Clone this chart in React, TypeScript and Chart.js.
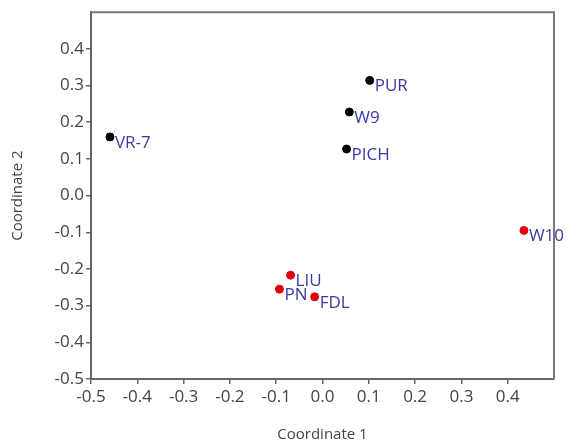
import { useEffect, useRef } from "react";
import { Chart, registerables } from "chart.js";
Chart.register(...registerables);

const blackLabels = ["VR-7", "PUR", "W9", "PICH"];
const blackX = [-0.459, 0.102, 0.058, 0.052];
const blackY = [0.16, 0.314, 0.228, 0.127];

const redLabels = ["W10", "LIU", "PN", "FDL"];
const redX = [0.435, -0.069, -0.093, -0.017];
const redY = [-0.095, -0.217, -0.255, -0.276];

const xTitle = "Coordinate 1";
const yTitle = "Coordinate 2";

const FONT = "'Open Sans', 'Noto Sans', sans-serif";

export default function App() {
  const ref = useRef<HTMLCanvasElement>(null);
  useEffect(() => {
    document.body.style.margin = "0";
    const ctx = ref.current!.getContext("2d")!;
    const labelPlugin = {
      id: "pointLabels",
      afterDatasetsDraw(chart: any) {
        const c = chart.ctx;
        c.save();
        c.font = `17px ${FONT}`;
        c.fillStyle = "#3a3aa6";
        c.textAlign = "left";
        c.textBaseline = "middle";
        chart.data.datasets.forEach((ds: any, di: number) => {
          const meta = chart.getDatasetMeta(di);
          meta.data.forEach((el: any, i: number) => {
            c.fillText(ds.labelsText[i], el.x + 5, el.y + 6);
          });
        });
        c.restore();
      },
      afterDraw(chart: any) {
        const a = chart.chartArea;
        const c = chart.ctx;
        c.save();
        c.strokeStyle = "#7a7a7a";
        c.lineWidth = 2;
        c.beginPath();
        c.moveTo(a.left, a.top);
        c.lineTo(a.right, a.top);
        c.lineTo(a.right, a.bottom);
        c.stroke();
        c.restore();
      },
    };
    const chart = new Chart(ctx, {
      type: "scatter",
      data: {
        datasets: [
          {
            label: "A",
            data: blackX.map((x, i) => ({ x, y: blackY[i] })),
            labelsText: blackLabels,
            backgroundColor: "#000000",
            borderColor: "#000000",
            pointRadius: 4,
          } as any,
          {
            label: "B",
            data: redX.map((x, i) => ({ x, y: redY[i] })),
            labelsText: redLabels,
            backgroundColor: "#e00010",
            borderColor: "#e00010",
            pointRadius: 4,
          } as any,
        ],
      },
      options: {
        animation: false,
        responsive: false,
        layout: { padding: { top: 11, right: 13, left: 0, bottom: 0 } },
        plugins: { legend: { display: false }, tooltip: { enabled: false } },
        scales: {
          x: {
            type: "linear",
            min: -0.5,
            max: 0.5,
            afterBuildTicks: (s: any) => {
              s.ticks = s.ticks.filter((t: any) => t.value < 0.45);
            },
            afterFit: (s: any) => {
              s.height = 66;
            },
            ticks: {
              stepSize: 0.1,
              color: "#444",
              font: { family: FONT, size: 17 },
              padding: 3,
              maxRotation: 0,
              callback: (v: any) => Number(v).toFixed(1),
            },
            grid: {
              display: true,
              drawOnChartArea: false,
              drawTicks: true,
              tickLength: 5,
              color: "#666",
              lineWidth: 1.5,
            },
            border: { display: true, color: "#666", width: 2 },
            title: {
              display: true,
              text: xTitle,
              color: "#444",
              font: { family: FONT, size: 15 },
              padding: { top: 0, bottom: 1 },
            },
          },
          y: {
            type: "linear",
            min: -0.5,
            max: 0.5,
            afterBuildTicks: (s: any) => {
              s.ticks = s.ticks.filter((t: any) => t.value < 0.45);
            },
            afterFit: (s: any) => {
              s.width = 91;
            },
            ticks: {
              stepSize: 0.1,
              color: "#444",
              font: { family: FONT, size: 17 },
              padding: 2,
              callback: (v: any) => Number(v).toFixed(1),
            },
            grid: {
              display: true,
              drawOnChartArea: false,
              drawTicks: true,
              tickLength: 5,
              color: "#666",
              lineWidth: 1.5,
            },
            border: { display: true, color: "#666", width: 2 },
            title: {
              display: true,
              text: yTitle,
              color: "#444",
              font: { family: FONT, size: 15 },
              padding: { top: 9, bottom: 0 },
            },
          },
        },
      },
      plugins: [labelPlugin],
    } as any);
    return () => chart.destroy();
  }, []);
  return (
    <div style={{ width: 567, height: 445, background: "#fff" }}>
      <canvas ref={ref} width={567} height={445} />
    </div>
  );
}
